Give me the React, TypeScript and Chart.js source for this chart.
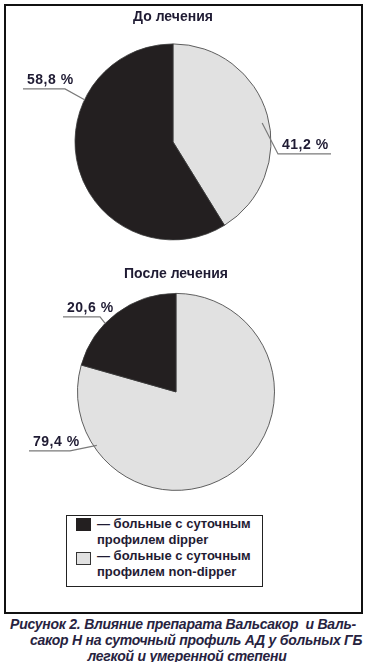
import React, { useEffect, useRef } from "react";
import { Chart, registerables } from "chart.js";

Chart.register(...registerables);

// ---- data ----
const categories = [
  "больные с суточным профилем dipper",
  "больные с суточным профилем non-dipper",
];
const legendLines = [
  ["— больные с суточным", "профилем dipper"],
  ["— больные с суточным", "профилем non-dipper"],
];
const titles = ["До лечения", "После лечения"];
const beforeValues = [58.8, 41.2];
const afterValues = [20.6, 79.4];
const sliceColors = ["#231f20", "#e1e1e1"];
const captionLines = [
  "Рисунок 2. Влияние препарата Вальсакор  и Валь-",
  "сакор Н на суточный профиль АД у больных ГБ",
  "легкой и умеренной степени",
];

const TEXT = "#1f1b33";
const FONT = "'Liberation Sans', Arial, sans-serif";

const fmt = (v: number) => v.toFixed(1).replace(".", ",") + " %";

// leader-line labels plugin
const leaderPlugin = {
  id: "leaders",
  afterDatasetsDraw(chart: any, _args: any, opts: any) {
    const meta = chart.getDatasetMeta(0);
    const ctx = chart.ctx as CanvasRenderingContext2D;
    const data = chart.data.datasets[0].data as number[];
    (opts.items || []).forEach((it: any) => {
      const arc = meta.data[it.index] as any;
      const { x, y, outerRadius } = arc.getProps(["x", "y", "outerRadius"], true);
      const a = ((it.angle - 90) * Math.PI) / 180;
      const ax = x + Math.cos(a) * outerRadius * it.k;
      const ay = y + Math.sin(a) * outerRadius * it.k;
      const ex = x + it.elbow[0];
      const ey = y + it.elbow[1];
      const tx = x + it.end;
      ctx.save();
      ctx.strokeStyle = "#7a7a7a";
      ctx.lineWidth = 1.2;
      ctx.beginPath();
      ctx.moveTo(ax, ay);
      ctx.lineTo(ex, ey);
      ctx.lineTo(tx, ey);
      ctx.stroke();
      ctx.fillStyle = TEXT;
      ctx.font = `bold 14px ${FONT}`;
      (ctx as any).letterSpacing = "0.5px";
      ctx.textAlign = "left";
      ctx.textBaseline = "alphabetic";
      ctx.fillText(fmt(data[it.index]), Math.min(ex, tx) + 4, ey - 5);
      ctx.restore();
    });
  },
};

type PieProps = {
  title: string;
  values: number[];
  width: number;
  height: number;
  padRight: number;
  titleTop: number;
  radius: number;
  items: any[];
};

function Pie({ title, values, width, height, padRight, titleTop, radius, items }: PieProps) {
  const ref = useRef<HTMLCanvasElement | null>(null);
  useEffect(() => {
    if (!ref.current) return;
    // chart order: non-dipper first (drawn clockwise from 12 o'clock), then dipper
    const chart = new Chart(ref.current, {
      type: "pie",
      data: {
        labels: [categories[1], categories[0]],
        datasets: [
          {
            data: [values[1], values[0]],
            backgroundColor: [sliceColors[1], sliceColors[0]],
            borderColor: "#3a3a3a",
            borderWidth: 0.8,
            radius: radius,
          } as any,
        ],
      },
      options: {
        responsive: false,
        animation: false,
        devicePixelRatio: 1,
        layout: { padding: { left: 0, right: padRight, top: 0, bottom: 0 } },
        plugins: {
          legend: { display: false },
          tooltip: { enabled: false },
          title: {
            display: true,
            text: title,
            color: TEXT,
            font: { family: FONT, size: 14, weight: "bold" },
            padding: { top: titleTop, bottom: 4 },
          },
          leaders: { items },
        } as any,
      },
      plugins: [leaderPlugin],
    });
    return () => chart.destroy();
  }, []);
  return (
    <canvas
      ref={ref}
      width={width}
      height={height}
      style={{ width, height, display: "block" }}
    />
  );
}

export default function App() {
  return (
    <div
      style={{
        position: "absolute",
        left: 0,
        top: 0,
        width: 366,
        height: 662,
        background: "#fff",
        fontFamily: FONT,
        overflow: "hidden",
      }}
    >
      <div
        style={{
          position: "absolute",
          left: 4,
          top: 4,
          width: 359,
          height: 610,
          boxSizing: "border-box",
          border: "2px solid #111",
          zIndex: 0,
        }}
      />
      <div style={{ position: "absolute", left: 0, top: 0, zIndex: 1 }}>
        <Pie
          title={titles[0]}
          values={beforeValues}
          width={366}
          height={254}
          padRight={20}
          titleTop={9}
          radius={98}
          items={[
            { index: 1, angle: 295.5, k: 1.0, elbow: [-108, -53], end: -150 },
            { index: 0, angle: 78, k: 0.93, elbow: [105, 12], end: 158 },
          ]}
        />
      </div>
      <div style={{ position: "absolute", left: 0, top: 256, zIndex: 1 }}>
        <Pie
          title={titles[1]}
          values={afterValues}
          width={366}
          height={241}
          padRight={14}
          titleTop={10}
          radius={98.5}
          items={[
            { index: 1, angle: 314, k: 1.0, elbow: [-76, -75], end: -113 },
            { index: 0, angle: 236, k: 0.97, elbow: [-106, 59], end: -147 },
          ]}
        />
      </div>
      <div
        style={{
          position: "absolute",
          left: 66,
          top: 515,
          width: 197,
          height: 72,
          boxSizing: "border-box",
          border: "1.5px solid #222",
          color: TEXT,
          fontWeight: "bold",
          fontSize: 13,
          lineHeight: "16px",
          zIndex: 2,
        }}
      >
        {legendLines.map((lines, i) => (
          <div key={i} style={{ position: "relative", paddingLeft: 30 }}>
            <div
              style={{
                position: "absolute",
                left: 8.5,
                top: i === 0 ? 1.5 : 3.5,
                width: 15,
                height: 13,
                background: sliceColors[i],
                border: i === 1 ? "1px solid #333" : "1px solid " + sliceColors[0],
                boxSizing: "border-box",
              }}
            />
            {lines.map((l, j) => (
              <div key={j} style={{ whiteSpace: "nowrap" }}>{l}</div>
            ))}
          </div>
        ))}
      </div>
      <div
        style={{
          position: "absolute",
          left: 0,
          top: 616,
          width: 366,
          color: "#27233f",
          fontWeight: "bold",
          fontStyle: "italic",
          fontSize: 14,
          letterSpacing: "-0.25px",
          lineHeight: "16px",
          zIndex: 2,
        }}
      >
        {captionLines.map((l, i) => (
          <div
            key={i}
            style={{
              textAlign: "center",
              whiteSpace: "pre",
              boxSizing: "border-box",
              width: 366,
              paddingLeft: i === 1 ? 26 : i === 2 ? 8 : 0,
            }}
          >
            {l}
          </div>
        ))}
      </div>
    </div>
  );
}
